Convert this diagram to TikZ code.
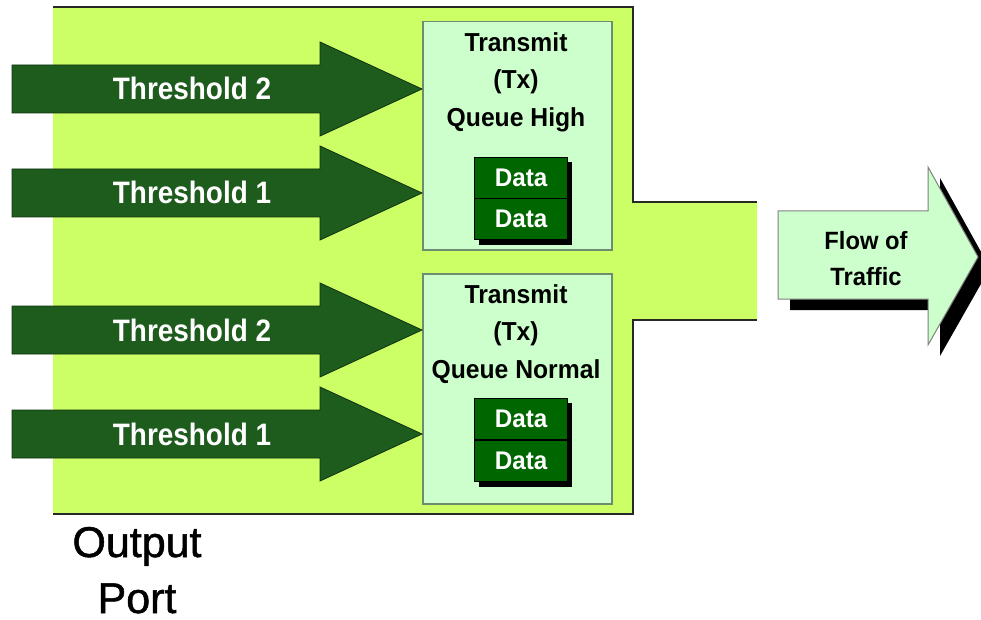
\documentclass[tikz,border=0pt]{standalone}
\usepackage{fontspec}
\setmainfont{Liberation Sans}
\newfontfamily\narrowsans[FakeStretch=0.9]{Liberation Sans}
\newfontfamily\qsans[FakeStretch=0.95]{Liberation Sans}
\newfontfamily\heavysans[FakeBold=1.2]{Liberation Sans}
\definecolor{portfill}{RGB}{204,255,102}
\definecolor{queuefill}{RGB}{204,255,204}
\definecolor{queueline}{RGB}{110,140,110}
\definecolor{thrfill}{RGB}{30,92,30}
\definecolor{thrline}{RGB}{15,50,15}
\definecolor{datafill}{RGB}{0,102,0}
\definecolor{edgegray}{RGB}{40,40,40}
\tikzset{
  thrarrow/.style={fill=thrfill,draw=thrline,line width=0.8pt},
  thrtext/.style={text=white,font=\narrowsans\bfseries\fontsize{31}{37}\selectfont,inner sep=0pt,anchor=base},
  queuebox/.style={fill=queuefill,draw=queueline,line width=1.5pt},
  qtext/.style={font=\qsans\bfseries\fontsize{26}{30}\selectfont,inner sep=0pt,anchor=base},
  databox/.style={rectangle,fill=datafill,draw=black,line width=1.2pt,minimum width=93pt,minimum height=41pt,inner sep=0pt,text=white,font=\qsans\bfseries\fontsize{25.5}{30}\selectfont},
  flowtext/.style={font=\qsans\bfseries\fontsize{25}{30}\selectfont,inner sep=0pt,anchor=base},
  porttext/.style={font=\heavysans\fontsize{43}{50}\selectfont,inner sep=0pt,anchor=base},
}
\begin{document}
\begin{tikzpicture}[x=1pt,y=-1pt]
\useasboundingbox (0,0) rectangle (981,620);
% output port body
\fill[portfill] (53,7) -- (633,7) -- (633,202) -- (757,202) -- (757,320) -- (633,320) -- (633,514) -- (53,514) -- cycle;
\draw[edgegray,line width=2pt] (53,7) -- (633,7) -- (633,202) -- (757,202);
\draw[edgegray,line width=2pt] (757,320) -- (633,320) -- (633,514) -- (53,514);
% queue boxes
\node[queuebox,rectangle,minimum width=189pt,minimum height=228pt,anchor=north west,inner sep=0pt] (qhigh) at (422,21) {};
\node[queuebox,rectangle,minimum width=189pt,minimum height=230pt,anchor=north west,inner sep=0pt] (qnorm) at (422,273) {};
\node[qtext] (qh1) at (516,52) {Transmit};
\node[qtext] (qh2) at (516,89) {(Tx)};
\node[qtext] (qh3) at (516,127) {Queue High};
\node[qtext] (qn1) at (516,303) {Transmit};
\node[qtext] (qn2) at (516,340) {(Tx)};
\node[qtext] (qn3) at (516,378) {Queue Normal};
% data boxes
\fill[black] (479,162) rectangle (572,245);
\node[databox,anchor=north west] (dh1) at (474,157) {Data};
\node[databox,anchor=north west] (dh2) at (474,198) {Data};
\fill[black] (479,403) rectangle (572,487);
\node[databox,anchor=north west] (dn1) at (474,398) {Data};
\node[databox,anchor=north west] (dn2) at (474,440) {Data};
% threshold arrows
\coordinate (t1) at (qhigh.west |- 0,89);
\coordinate (t2) at (qhigh.west |- 0,193);
\coordinate (t3) at (qnorm.west |- 0,330);
\coordinate (t4) at (qnorm.west |- 0,434);
\foreach \c in {t1,t2,t3,t4}{
  \draw[thrarrow] ([shift={(-410,-24)}]\c) -- ([shift={(-102,-24)}]\c) -- ([shift={(-102,-47)}]\c) -- (\c) -- ([shift={(-102,47)}]\c) -- ([shift={(-102,24)}]\c) -- ([shift={(-410,24)}]\c) -- cycle;
}
\node[thrtext] (th2a) at (192,100) {Threshold 2};
\node[thrtext] (th1a) at (192,204) {Threshold 1};
\node[thrtext] (th2b) at (192,341) {Threshold 2};
\node[thrtext] (th1b) at (192,445) {Threshold 1};
% flow of traffic arrow
\fill[black,shift={(12,11)}] (778,211) -- (928,211) -- (928,167) -- (978,257) -- (928,345) -- (928,299) -- (778,299) -- cycle;
\draw[fill=queuefill,draw=gray,line width=1pt] (778,211) -- (928,211) -- (928,167) -- (978,257) -- (928,345) -- (928,299) -- (778,299) -- cycle;
\node[flowtext] (fl1) at (866,249) {Flow of};
\node[flowtext] (fl2) at (866,285) {Traffic};
% label
\node[porttext] (op1) at (137,557) {Output};
\node[porttext] (op2) at (137,613) {Port};
\end{tikzpicture}
\end{document}
